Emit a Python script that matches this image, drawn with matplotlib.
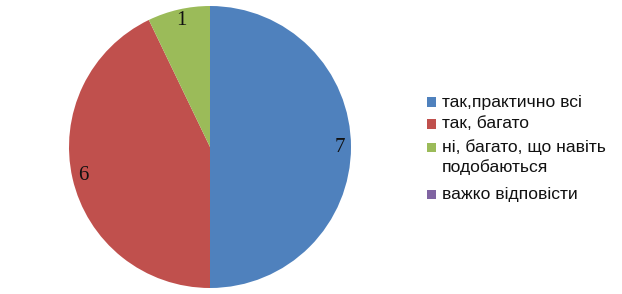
import matplotlib.pyplot as plt
from matplotlib.patches import Rectangle

## data
labels = ["так,практично всі", "так, багато", "ні, багато, що навіть\nподобаються", "важко відповісти"]
values = [7, 6, 1, 0]
colors = ["#4F81BD", "#C0504D", "#9BBB59", "#8064A2"]

W, H = 622, 294
fig = plt.figure(figsize=(W / 100, H / 100), dpi=100)
# pie axes: centre (210,147), radius ~140 px
ax = fig.add_axes([(210 - 141) / W, (H - 147 - 141) / H, 282 / W, 282 / H])

shown = [v for v in values if v > 0]
wedges, texts = ax.pie(shown, colors=colors[:len(shown)], startangle=90, counterclock=False,
                       labels=[str(v) for v in shown], labeldistance=0.92,
                       wedgeprops=dict(linewidth=0))
for t in texts:
    t.set_family("Liberation Serif")
    t.set_fontsize(15)
    t.set_color("#111111")
    t.set_ha("center")
    t.set_va("center")
ax.set_xlim(-1.0, 1.0)
ax.set_ylim(-1.0, 1.0)
ax.set_aspect("equal")

## legend drawn by hand so the square sits on the first line
y_px = [102, 124, 147.5, 194]
for lab, col, y in zip(labels, colors, y_px):
    fig.patches.append(Rectangle(((427) / W, (H - y - 4.5) / H), 9 / W, 9 / H,
                                 transform=fig.transFigure, facecolor=col, edgecolor="none"))
    fig.text(442 / W, (H - y) / H, lab.split("\n")[0], family="Liberation Sans",
             fontsize=12.6, va="center", ha="left", color="#111111")
    if "\n" in lab:
        fig.text(442 / W, (H - y - 20) / H, lab.split("\n")[1], family="Liberation Sans",
                 fontsize=12.6, va="center", ha="left", color="#111111")

fig.savefig("out.png", dpi=100)
